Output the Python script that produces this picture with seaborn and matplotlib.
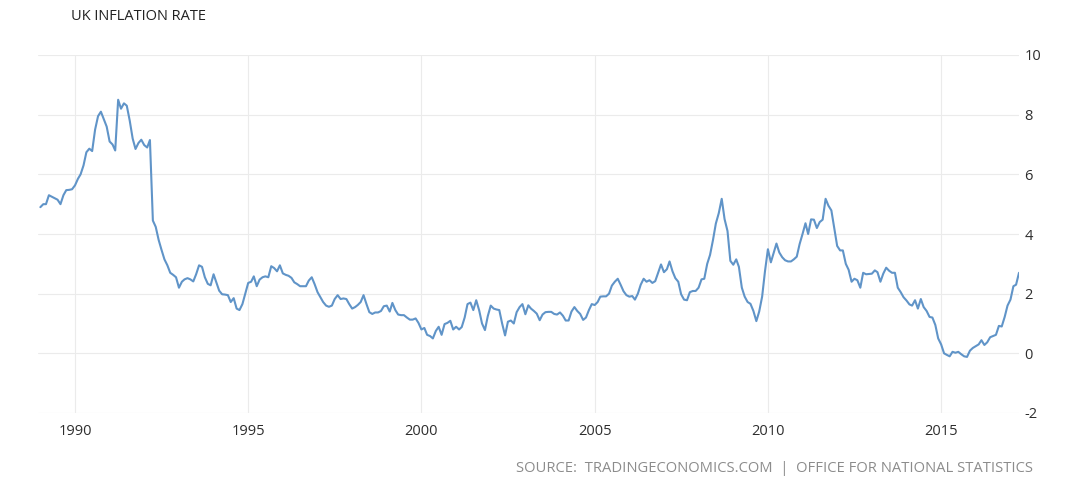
import numpy as np
import pandas as pd
import matplotlib
matplotlib.use("Agg")
import matplotlib.pyplot as plt
import matplotlib.dates as mdates
import seaborn as sns

# Monthly UK CPI inflation (%), Jan 1989 .. Apr 2017
y1989 = [4.9, 5.0, 5.0, 5.3, 5.25, 5.2, 5.15, 5.0, 5.3, 5.47, 5.48, 5.5]
y1990 = [5.63, 5.85, 6.0, 6.3, 6.74, 6.86, 6.78, 7.5, 7.95, 8.1, 7.85, 7.6]
y1991 = [7.1, 7.0, 6.8, 8.5, 8.2, 8.38, 8.3, 7.8, 7.2, 6.85, 7.05, 7.16]
y1992 = [6.98, 6.9, 7.15, 4.45, 4.24, 3.8, 3.47, 3.15, 2.95, 2.7, 2.63, 2.55]
y1993 = [2.2, 2.4, 2.48, 2.52, 2.48, 2.41, 2.65, 2.95, 2.9, 2.55, 2.33, 2.28]
y1994 = [2.65, 2.36, 2.1, 1.98, 1.97, 1.95, 1.72, 1.85, 1.5, 1.45, 1.65, 2.0]
y1995 = [2.36, 2.4, 2.58, 2.25, 2.47, 2.55, 2.58, 2.55, 2.92, 2.86, 2.75, 2.95]
y1996 = [2.68, 2.63, 2.6, 2.53, 2.38, 2.32, 2.25, 2.25, 2.25, 2.44, 2.55, 2.32]
y1997 = [2.05, 1.88, 1.72, 1.6, 1.56, 1.6, 1.82, 1.95, 1.82, 1.84, 1.82, 1.65]
y1998 = [1.5, 1.55, 1.62, 1.72, 1.95, 1.65, 1.38, 1.32, 1.37, 1.37, 1.42, 1.58]
y1999 = [1.6, 1.4, 1.69, 1.45, 1.3, 1.28, 1.28, 1.2, 1.13, 1.13, 1.17, 1.02]
y2000 = [0.8, 0.85, 0.62, 0.58, 0.5, 0.75, 0.89, 0.62, 0.98, 1.02, 1.09, 0.8]
y2001 = [0.89, 0.8, 0.88, 1.2, 1.65, 1.7, 1.45, 1.78, 1.44, 1.0, 0.78, 1.25]
y2002 = [1.6, 1.5, 1.47, 1.45, 1.0, 0.6, 1.06, 1.1, 1.0, 1.38, 1.55, 1.65]
y2003 = [1.31, 1.61, 1.5, 1.42, 1.33, 1.11, 1.3, 1.38, 1.39, 1.39, 1.32, 1.3]
y2004 = [1.37, 1.26, 1.1, 1.1, 1.4, 1.55, 1.42, 1.32, 1.12, 1.2, 1.45, 1.65]
y2005 = [1.62, 1.72, 1.9, 1.91, 1.91, 2.0, 2.27, 2.4, 2.5, 2.3, 2.08, 1.95]
y2006 = [1.9, 1.92, 1.8, 2.0, 2.3, 2.5, 2.4, 2.45, 2.36, 2.42, 2.7, 2.98]
y2007 = [2.72, 2.82, 3.08, 2.75, 2.52, 2.4, 1.98, 1.8, 1.78, 2.05, 2.09, 2.09]
y2008 = [2.2, 2.48, 2.5, 3.0, 3.3, 3.8, 4.35, 4.7, 5.18, 4.5, 4.1, 3.1]
y2009 = [2.97, 3.15, 2.9, 2.2, 1.9, 1.72, 1.66, 1.42, 1.08, 1.4, 1.9, 2.75]
y2010 = [3.49, 3.05, 3.35, 3.68, 3.38, 3.22, 3.12, 3.08, 3.08, 3.15, 3.24, 3.66]
y2011 = [4.0, 4.36, 4.0, 4.49, 4.48, 4.2, 4.4, 4.48, 5.18, 4.95, 4.79, 4.2]
y2012 = [3.6, 3.45, 3.45, 3.0, 2.8, 2.4, 2.5, 2.45, 2.2, 2.7, 2.65, 2.66]
y2013 = [2.67, 2.78, 2.72, 2.4, 2.67, 2.87, 2.77, 2.7, 2.7, 2.2, 2.05, 1.88]
y2014 = [1.77, 1.64, 1.6, 1.78, 1.5, 1.82, 1.55, 1.42, 1.22, 1.2, 0.95, 0.5]
y2015 = [0.3, 0.0, -0.05, -0.1, 0.05, 0.02, 0.05, -0.03, -0.1, -0.12, 0.09, 0.18]
y2016 = [0.24, 0.3, 0.44, 0.28, 0.37, 0.54, 0.58, 0.62, 0.92, 0.9, 1.22, 1.6]
y2017 = [1.8, 2.25, 2.3, 2.7]

inflation = (y1989 + y1990 + y1991 + y1992 + y1993 + y1994 + y1995 + y1996 + y1997
             + y1998 + y1999 + y2000 + y2001 + y2002 + y2003 + y2004 + y2005 + y2006
             + y2007 + y2008 + y2009 + y2010 + y2011 + y2012 + y2013 + y2014 + y2015
             + y2016 + y2017)
dates = pd.date_range("1989-01-01", periods=len(inflation), freq="MS")
y_ticks = [-2, 0, 2, 4, 6, 8, 10]
x_tick_years = [1990, 1995, 2000, 2005, 2010, 2015]

df = pd.DataFrame({"date": dates, "value": inflation})

sns.set_style("white")
plt.rcParams["font.family"] = ["Open Sans", "DejaVu Sans"]
plt.rcParams["axes.unicode_minus"] = False

fig = plt.figure(figsize=(10.69, 4.92), dpi=100)
ax = fig.add_axes([38 / 1069, 1 - 413 / 492, (1019 - 38) / 1069, (413 - 55) / 492])

sns.lineplot(data=df, x="date", y="value", ax=ax, color="#6094c8", linewidth=1.5)

ax.set_ylim(-2, 10)
ax.set_yticks(y_ticks)
ax.set_xlim(pd.Timestamp("1988-12-07"), pd.Timestamp("2017-04-01"))
ax.set_xticks([pd.Timestamp(f"{y}-01-01") for y in x_tick_years])
ax.xaxis.set_major_formatter(mdates.DateFormatter("%Y"))

ax.yaxis.tick_right()
ax.grid(True, color="#ebebeb", linewidth=0.8)
for s in ax.spines.values():
    s.set_visible(False)
ax.tick_params(axis="y", length=0, pad=4, labelsize=10.5, labelcolor="#2e2e2e")
ax.tick_params(axis="x", length=0, pad=8, labelsize=10.5, labelcolor="#2e2e2e")
ax.set_xlabel("")
ax.set_ylabel("")

fig.text(71 / 1069, 1 - 16 / 492, "UK INFLATION RATE", ha="left", va="center",
         fontsize=10.5, color="#222222", fontweight="medium")
fig.text(1033 / 1069, 1 - 469 / 492,
         "SOURCE:  TRADINGECONOMICS.COM  |  OFFICE FOR NATIONAL STATISTICS",
         ha="right", va="center", fontsize=10.6, color="#8c8c8c")

fig.savefig("out.png", dpi=100)
